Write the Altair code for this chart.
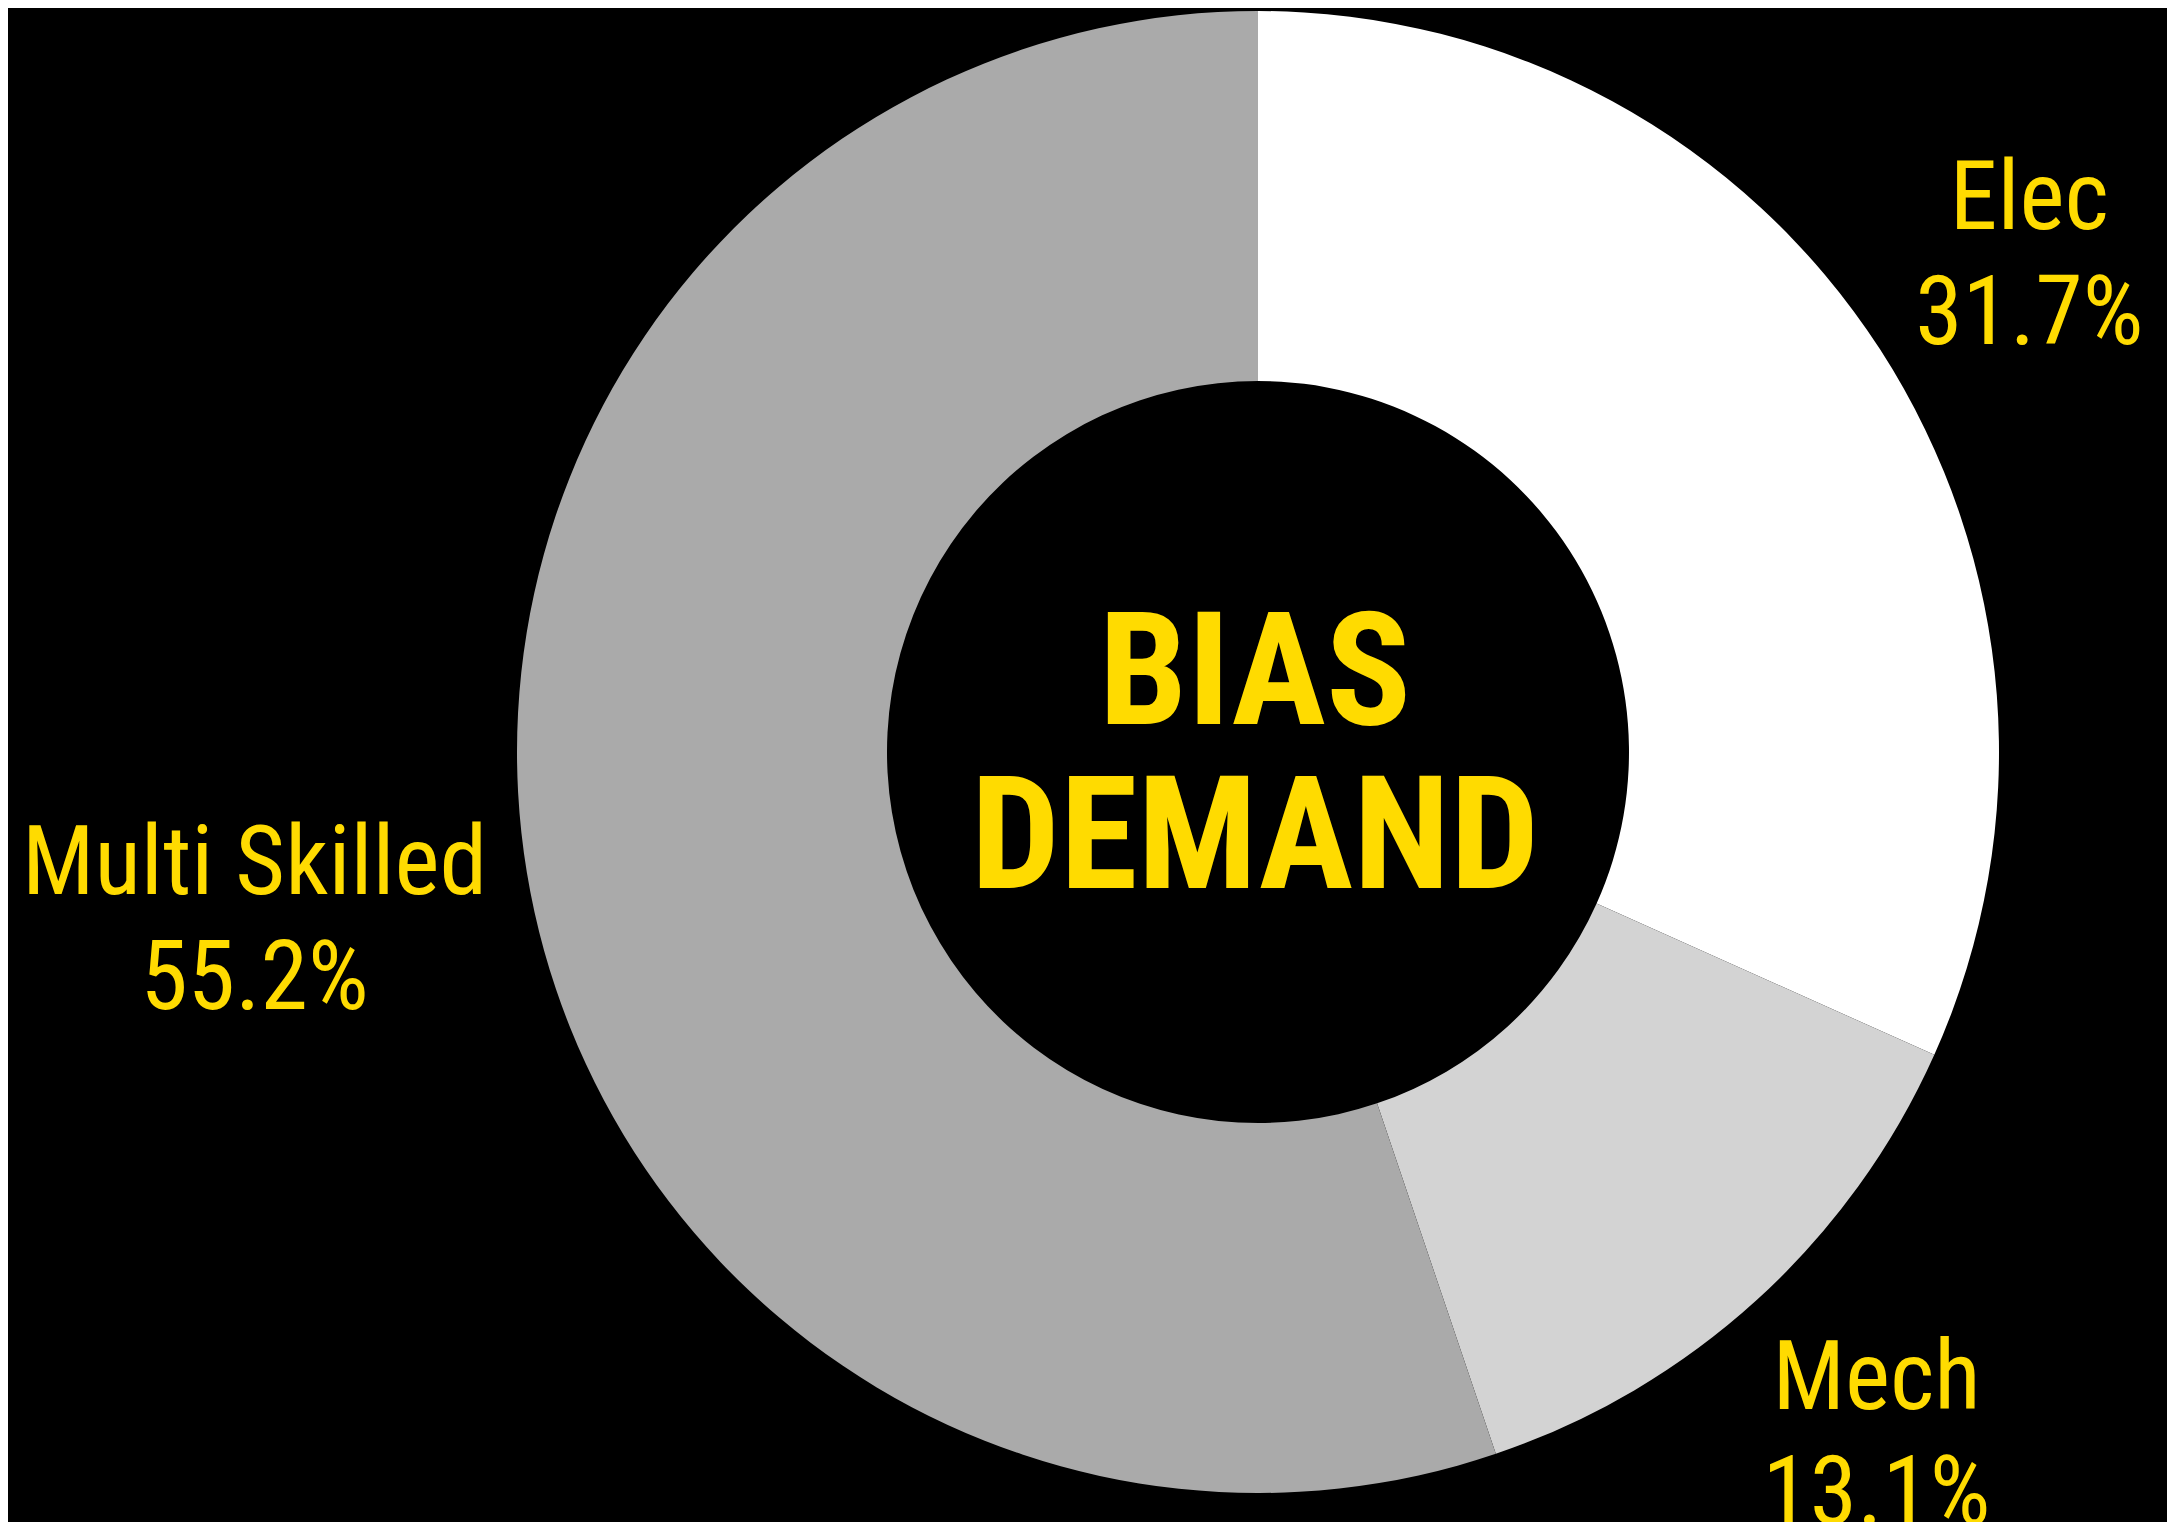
import altair as alt
import pandas as pd

# ---- data ----
categories = ["Elec", "Mech", "Multi Skilled"]
shares = [31.7, 13.1, 55.2]
slice_colors = ["#ffffff", "#d3d3d3", "#aaaaaa"]
center_title = ["BIAS", "DEMAND"]

df = pd.DataFrame({
    "category": categories,
    "share": shares,
    "idx": list(range(len(categories))),
})
df_title = pd.DataFrame({"t": ["\n".join(center_title)]})

W, H = 2159, 1514
CX, CY = 1250, 744
R_OUT, R_IN = 741, 371
YELLOW = "#FFDB00"

arcs = alt.Chart(df).mark_arc(radius=R_OUT, radius2=R_IN).encode(
    theta=alt.Theta("share:Q", stack=True),
    order=alt.Order("idx:Q"),
    color=alt.Color("category:N",
                    scale=alt.Scale(domain=categories, range=slice_colors),
                    legend=None),
    x=alt.value(CX),
    y=alt.value(CY),
)

labels = alt.Chart(df).transform_window(
    cum="sum(share)",
    sort=[alt.SortField("idx")],
    frame=[None, 0],
).transform_calculate(
    mid="datum.cum - datum.share / 2",
    txt="datum.category + '\\n' + format(datum.share, '.1f') + '%'",
    lr="datum.category == 'Multi Skilled' ? 1017 : 919",
).mark_text(
    lineBreak="\n", fontSize=96, lineHeight=115,
    font="Roboto Condensed, Roboto, sans-serif",
    color=YELLOW, align="center", baseline="alphabetic", dy=-23,
).encode(
    theta=alt.Theta("mid:Q", stack=None),
    radius=alt.Radius("lr:Q", scale=None),
    text="txt:N",
    x=alt.value(CX),
    y=alt.value(CY),
)

title_txt = alt.Chart(df_title).mark_text(
    lineBreak="\n", fontSize=158, lineHeight=164,
    font="Roboto Condensed, Liberation Sans Narrow, DejaVu Sans Condensed, sans-serif",
    fontWeight="bold", color=YELLOW, align="center", baseline="alphabetic",
).encode(
    text="t:N",
    x=alt.value(1247),
    y=alt.value(716),
)

chart = alt.layer(arcs, labels, title_txt).properties(
    width=W, height=H,
    autosize=alt.AutoSizeParams(type="none"),
    padding=0,
    background="#000000",
).configure_view(strokeWidth=0)

chart.save("out.html", embed_options={"renderer": "svg", "actions": False})
